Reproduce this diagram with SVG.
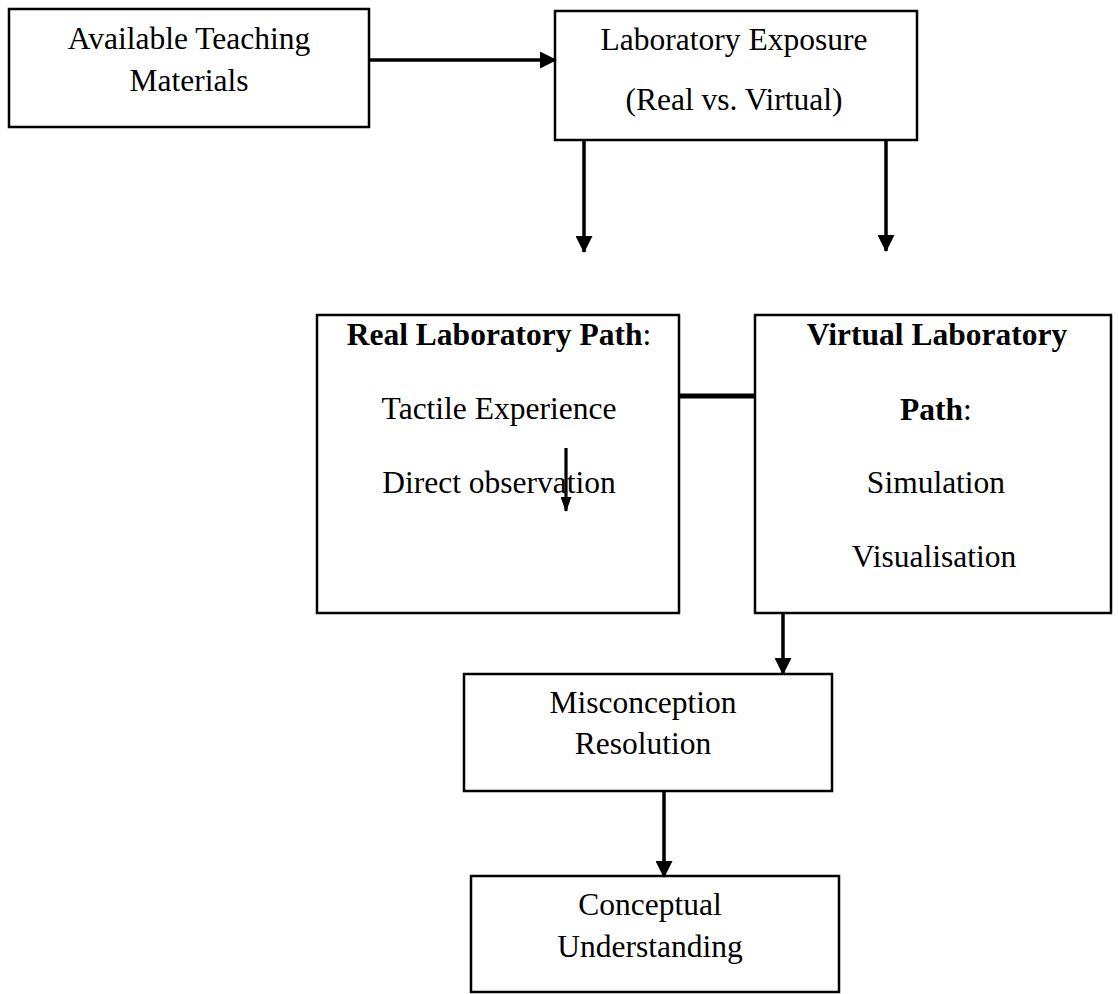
<svg xmlns="http://www.w3.org/2000/svg" width="1118" height="994" viewBox="0 0 1118 994">
  <defs>
    <marker id="head" markerUnits="userSpaceOnUse" markerWidth="17" markerHeight="17" refX="16" refY="8.5" orient="auto">
      <path d="M0,0 L17,8.5 L0,17 z" fill="#000"/>
    </marker>
    <marker id="headSmall" markerUnits="userSpaceOnUse" markerWidth="15" markerHeight="11" refX="14" refY="5.5" orient="auto">
      <path d="M0,0 L15,5.5 L0,11 z" fill="#000"/>
    </marker>
  </defs>
  <style>
    .box { fill: #fff; stroke: #000; stroke-width: 2.5; }
    .lbl { font-family: "Liberation Serif", "Times New Roman", serif; font-size: 31.5px; fill: #000; text-anchor: middle; }
    .b { font-weight: bold; }
    .wire { stroke: #000; stroke-width: 3.5; fill: none; }
  </style>
  <rect width="1118" height="994" fill="#fff"/>

  <g id="materials">
    <rect class="box" x="9" y="9" width="360" height="118"/>
    <text class="lbl" x="189" y="49">Available Teaching</text>
    <text class="lbl" x="189" y="91">Materials</text>
  </g>

  <g id="exposure">
    <rect class="box" x="555" y="11" width="362" height="129"/>
    <text class="lbl" x="734" y="50">Laboratory Exposure</text>
    <text class="lbl" x="734" y="110">(Real vs. Virtual)</text>
  </g>

  <g id="real-path">
    <rect class="box" x="317" y="315" width="362" height="298"/>
    <text class="lbl" x="499" y="345"><tspan class="b">Real Laboratory Path</tspan>:</text>
    <text class="lbl" x="499" y="419">Tactile Experience</text>
    <text class="lbl" x="499" y="493">Direct observation</text>
  </g>

  <g id="virtual-path">
    <rect class="box" x="755" y="315" width="356" height="298"/>
    <text class="lbl b" x="937" y="345">Virtual Laboratory</text>
    <text class="lbl" x="936" y="420"><tspan class="b">Path</tspan>:</text>
    <text class="lbl" x="936" y="493">Simulation</text>
    <text class="lbl" x="934" y="567">Visualisation</text>
  </g>

  <g id="misconception">
    <rect class="box" x="464" y="674" width="368" height="117"/>
    <text class="lbl" x="643" y="713">Misconception</text>
    <text class="lbl" x="643" y="754">Resolution</text>
  </g>

  <g id="understanding">
    <rect class="box" x="471" y="876" width="368" height="116"/>
    <text class="lbl" x="650" y="915">Conceptual</text>
    <text class="lbl" x="650" y="957">Understanding</text>
  </g>

  <g id="connectors">
    <line class="wire" x1="369" y1="60" x2="556" y2="60" marker-end="url(#head)"/>
    <line class="wire" x1="584" y1="140" x2="584" y2="252" marker-end="url(#head)"/>
    <line class="wire" x1="886" y1="140" x2="886" y2="251" marker-end="url(#head)"/>
    <line class="wire" x1="679" y1="396" x2="755" y2="396" style="stroke-width:5"/>
    <line class="wire" x1="566" y1="448" x2="566" y2="511" style="stroke-width:3.2" marker-end="url(#headSmall)"/>
    <line class="wire" x1="783" y1="613" x2="783" y2="674" marker-end="url(#head)"/>
    <line class="wire" x1="664" y1="791" x2="664" y2="877" marker-end="url(#head)"/>
  </g>
</svg>
